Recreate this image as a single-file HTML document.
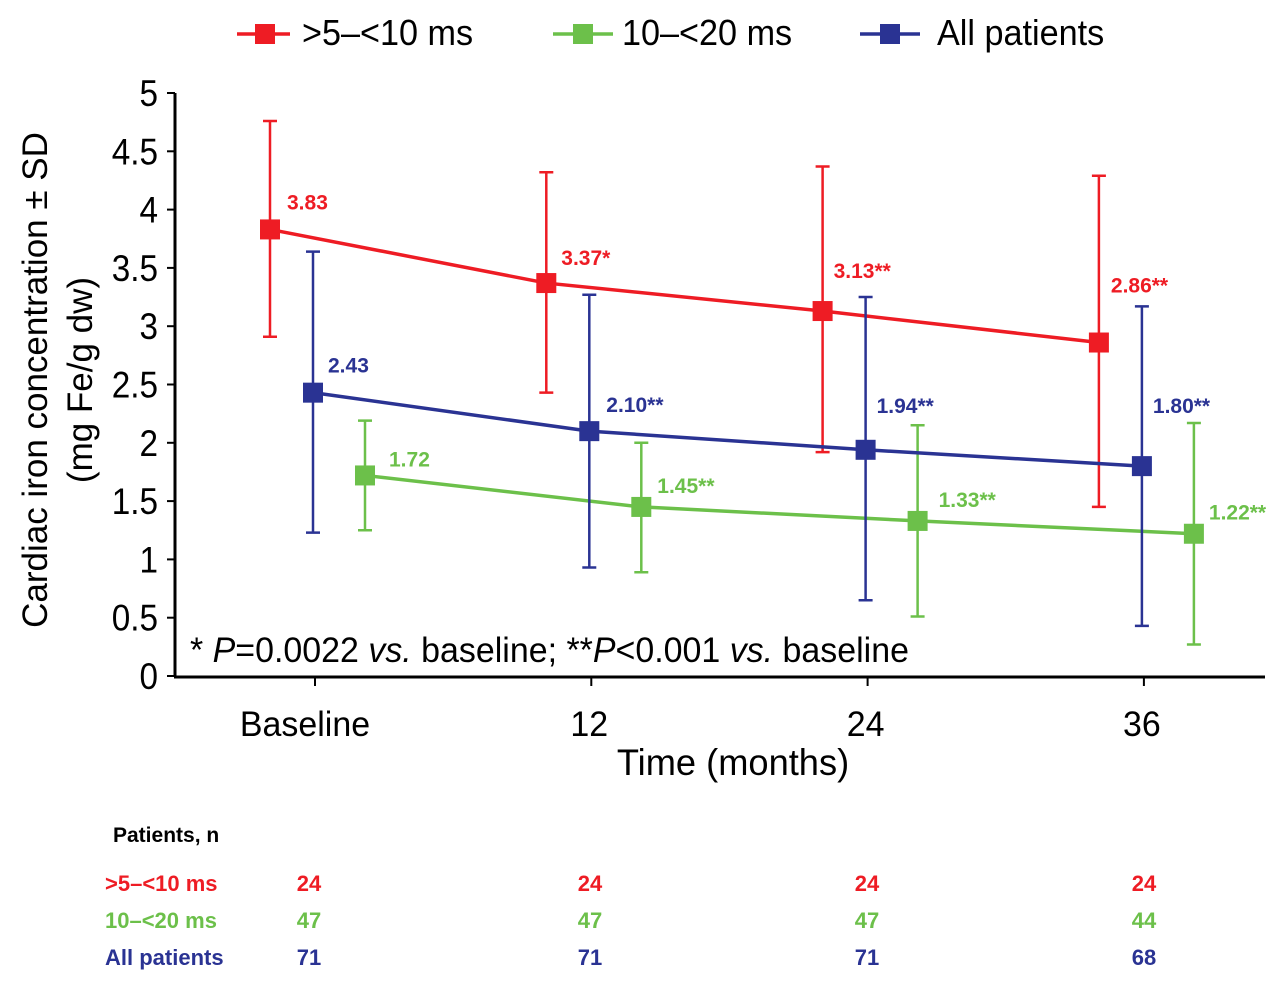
<!DOCTYPE html>
<html><head><meta charset="utf-8"><style>
body{margin:0;background:#fff;}
svg{display:block;font-family:"Liberation Sans",sans-serif;}
</style></head><body>
<svg id="chart" width="1280" height="996" viewBox="0 0 1280 996" xmlns="http://www.w3.org/2000/svg">
<g id="legend"></g>
<g id="axes"></g>
<g id="plot"></g>
<g id="table"></g>
</svg>
<script>
const categories = ["Baseline","12","24","36"];
const seriesNames = [">5\u2013<10 ms","10\u2013<20 ms","All patients"];
const seriesColors = ["#ee1c24","#6cc04a","#2a3393"];
const redValues = [3.83,3.37,3.13,2.86];
const redUpper = [4.76,4.32,4.37,4.29];
const redLower = [2.91,2.43,1.92,1.45];
const redLabels = ["3.83","3.37*","3.13**","2.86**"];
const greenValues = [1.72,1.45,1.33,1.22];
const greenUpper = [2.19,2.0,2.15,2.17];
const greenLower = [1.25,0.89,0.51,0.27];
const greenLabels = ["1.72","1.45**","1.33**","1.22**"];
const blueValues = [2.43,2.10,1.94,1.80];
const blueUpper = [3.64,3.27,3.25,3.17];
const blueLower = [1.23,0.93,0.65,0.43];
const blueLabels = ["2.43","2.10**","1.94**","1.80**"];
const yTicks = ["0","0.5","1","1.5","2","2.5","3","3.5","4","4.5","5"];
const nRed = ["24","24","24","24"];
const nGreen = ["47","47","47","44"];
const nBlue = ["71","71","71","68"];

const NS="http://www.w3.org/2000/svg";
function el(tag,attrs,parent,text){const e=document.createElementNS(NS,tag);for(const k in attrs)e.setAttribute(k,attrs[k]);if(text!==undefined)e.textContent=text;parent.appendChild(e);return e;}
const y=v=>676-v*116.6;
const xc=i=>315+i*276.3;
const axes=document.getElementById('axes'),plot=document.getElementById('plot'),legend=document.getElementById('legend'),table=document.getElementById('table');

let a=el('line',{x1:175,y1:93,x2:175,y2:677,stroke:'#000','stroke-width':3},axes);


a=el('line',{x1:174,y1:677,x2:1265,y2:677,stroke:'#000','stroke-width':3},axes);


yTicks.forEach((t,i)=>{const v=parseFloat(t);
 const tk=el('line',{x1:167,y1:y(v),x2:175,y2:y(v),stroke:'#000','stroke-width':2},axes);
 
 
 const tl=el('text',{x:0,y:0,'text-anchor':'end','font-size':37,transform:`translate(158,${y(v)+13}) scale(0.9,1)`},axes,t);
 
 
});
categories.forEach((c,i)=>{
 const tk=el('line',{x1:xc(i),y1:677,x2:xc(i),y2:686,stroke:'#000','stroke-width':2},axes);
 
 
 const lx=i==0?305:xc(i)-2;
 const tl=el('text',{x:0,y:0,'text-anchor':'middle','font-size':35,transform:`translate(${lx},736) scale(0.97,1)`},axes,c);
 
 
});
let t=el('text',{x:0,y:0,'text-anchor':'middle','font-size':37,transform:'translate(733,775) scale(0.98,1)'},axes,'Time (months)');


t=el('text',{x:0,y:0,'text-anchor':'middle','font-size':35,transform:'translate(47,380) rotate(-90) scale(1.0,1)'},axes,'Cardiac iron concentration \u00b1 SD');


t=el('text',{x:0,y:0,'text-anchor':'middle','font-size':35,transform:'translate(92,380) rotate(-90) scale(1.0,1)'},axes,'(mg Fe/g dw)');


t=el('text',{x:0,y:0,'font-size':35,transform:'translate(190,662) scale(0.97,1)'},axes);
t.innerHTML='* <tspan font-style="italic">P</tspan>=0.0022 <tspan font-style="italic">vs.</tspan> baseline; **<tspan font-style="italic">P</tspan>&lt;0.001 <tspan font-style="italic">vs.</tspan> baseline';



const series=[
 {vals:redValues,up:redUpper,lo:redLower,lab:redLabels,off:-45,name:'red',ldx:[17,15,11,12],ldy:[-20,-18,-33,-50]},
 {vals:greenValues,up:greenUpper,lo:greenLower,lab:greenLabels,off:50,name:'green',ldx:[24,16,21,15],ldy:[-9,-14,-14,-14]},
 {vals:blueValues,up:blueUpper,lo:blueLower,lab:blueLabels,off:-2,name:'blue',ldx:[15,17,11,11],ldy:[-20,-19,-37,-53]}];
series.forEach((s,si)=>{
 const col=seriesColors[si];
 const g=el('g',{},plot);
 
 
 const pts=s.vals.map((v,i)=>(xc(i)+s.off)+','+y(v)).join(' ');
 const ln=el('polyline',{points:pts,fill:'none',stroke:col,'stroke-width':3.5},g);
 
 
 s.vals.forEach((v,i)=>{
  const x=xc(i)+s.off;
  const eb=el('path',{d:`M${x},${y(s.up[i])}V${y(s.lo[i])}M${x-7},${y(s.up[i])}H${x+7}M${x-7},${y(s.lo[i])}H${x+7}`,stroke:col,'stroke-width':2.5,fill:'none'},g);
  
  
  const m=el('rect',{x:x-10,y:y(v)-10,width:20,height:20,fill:col},g);
  
  
  const lb=el('text',{x:x+s.ldx[i],y:y(v)+s.ldy[i],'font-size':21,'font-weight':'bold',fill:col},g,s.lab[i]);
  
  
 });
});

const legX=[[237,290,265,302],[553,613,583,622],[860,920,890,937]];
seriesNames.forEach((n,i)=>{
 const g=el('g',{},legend);
 
 
 const L=legX[i];
 el('line',{x1:L[0],y1:34,x2:L[1],y2:34,stroke:seriesColors[i],'stroke-width':3.5},g);
 el('rect',{x:L[2]-10,y:24,width:20,height:20,fill:seriesColors[i]},g);
 el('text',{x:0,y:0,'font-size':36,transform:`translate(${L[3]},45) scale(0.95,1)`},g,n);
});

t=el('text',{x:113,y:842,'font-size':21,'font-weight':'bold'},table,'Patients, n');


const rows=[nRed,nGreen,nBlue];const rowY=[891,928,965];const colX=[309,590,867,1144];
rows.forEach((r,ri)=>{
 const lb=el('text',{x:105,y:rowY[ri],'font-size':22,'font-weight':'bold',fill:seriesColors[ri]},table,seriesNames[ri]);
 
 
 r.forEach((v,ci)=>{
  const c=el('text',{x:colX[ci],y:rowY[ri],'font-size':22,'font-weight':'bold','text-anchor':'middle',fill:seriesColors[ri]},table,v);
  
  
 });
});
</script>
</body></html>
